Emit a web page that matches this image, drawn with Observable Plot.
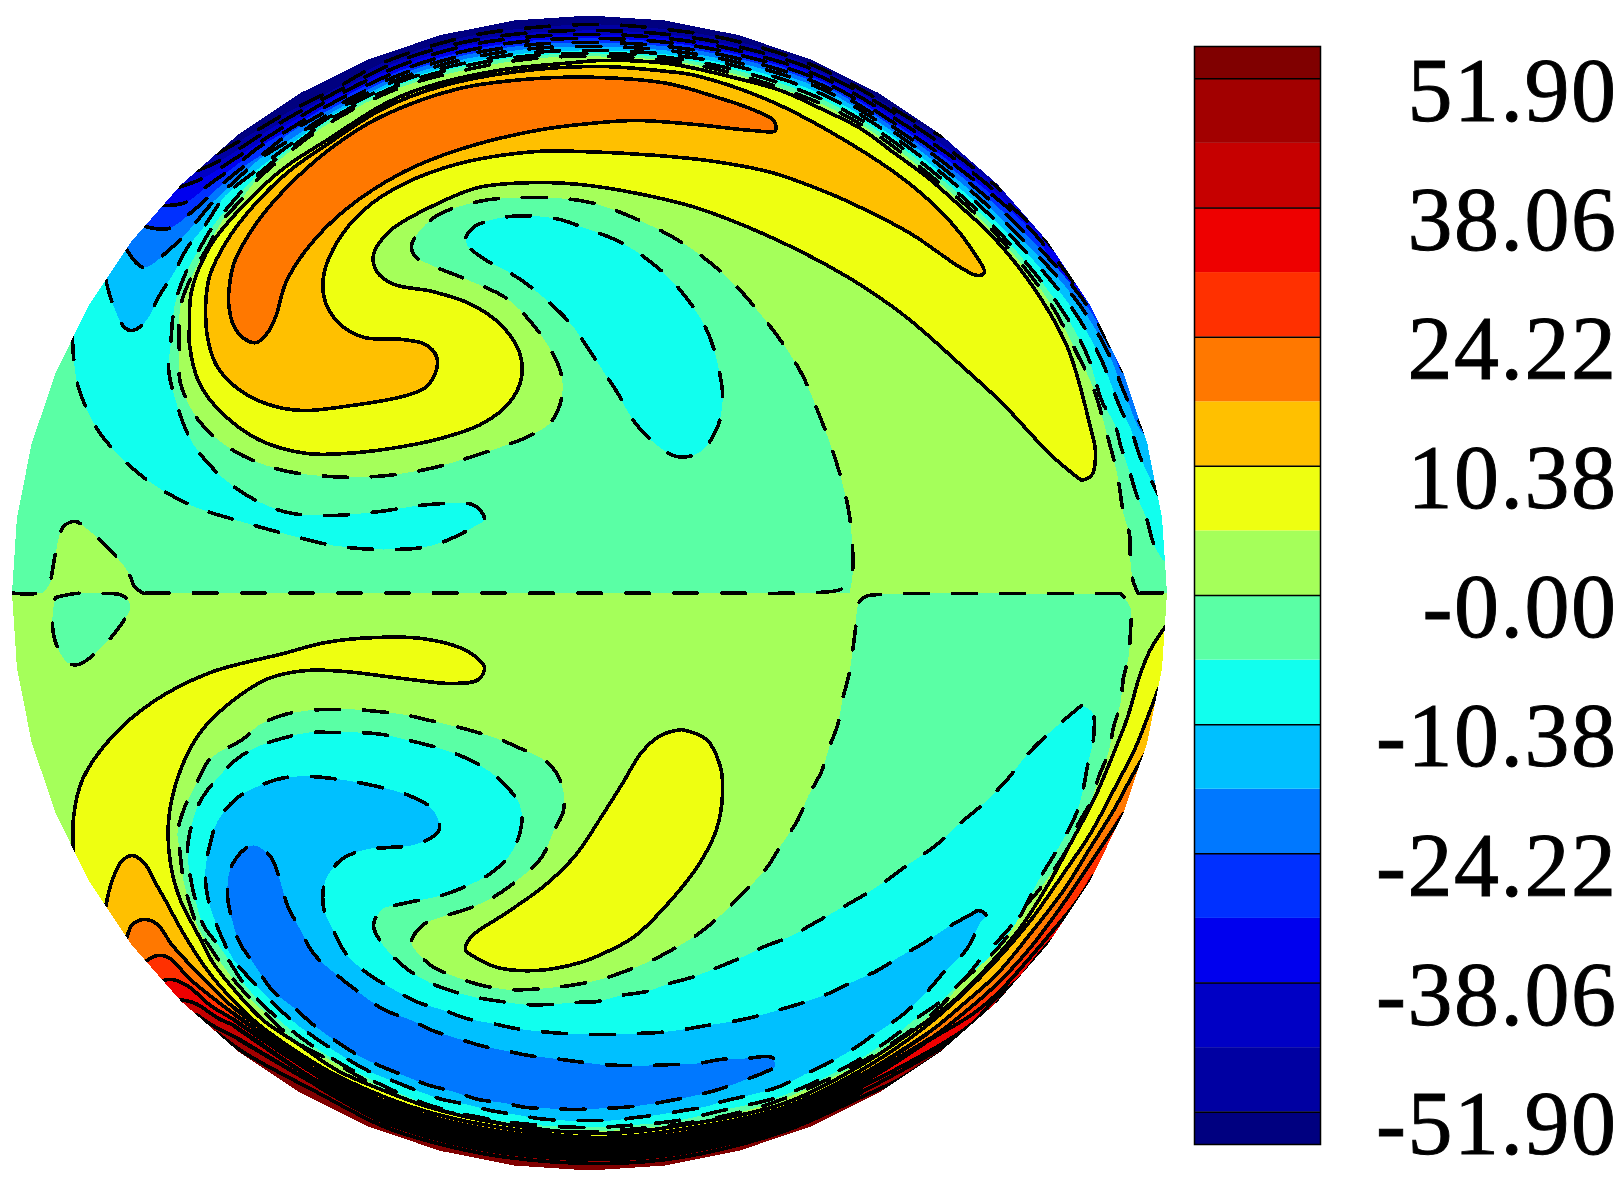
<!DOCTYPE html>
<html><head><meta charset="utf-8">
<style>html,body{margin:0;padding:0;background:#fff}#chart{position:relative;width:1620px;height:1185px}#chart svg{position:absolute;top:0}#bar text{stroke:#000;stroke-width:.9px;letter-spacing:1.5px}</style>
<script src="https://cdn.jsdelivr.net/npm/d3@7"></script>
<script src="https://cdn.jsdelivr.net/npm/@observablehq/plot@0.6"></script>
</head><body><div id="chart"></div>
<script>
// Colour bands, lowest to highest, and the evenly spaced colour-bar positions that carry them
const bandColors = ["#000080","#0000a2","#0000c5","#0000ee","#0030ff","#0078ff","#00c0ff","#11ffee","#5affa5","#a5ff5a","#eeff11","#ffc000","#ff7800","#ff3000","#ee0000","#c60000","#a20000","#800000"];
const bandEdges = [-8.5,-8,-7,-6,-5,-4,-3,-2,-1,0,1,2,3,4,5,6,7,8,8.5];
const tickValues = [-8,-6,-4,-2,0,2,4,6,8];
const tickLabels = ["-51.90","-38.06","-24.22","-10.38","-0.00","10.38","24.22","38.06","51.90"];
const rimAngles = d3.range(0,360.1,7.5);

// Digitised contours of the upper hemisphere, outermost first
const up8=[217,153,240,140,253,132,287,112,333,89,383,62,467,36,533,27,600,24,667,29,733,40,820,68,930,130,942,136];
const up7=[197,170,220,160,253,139,287,118,333,93,400,60,467,41,533,32,600,30,667,34,733,45,820,72,921,130,989,180,1000,190];
const up6=[178,187,202,178,227,163,253,146,287,124,333,97,400,65,467,45,533,36,600,34,667,38,733,49,820,76,913,130,982,180,1036,230,1056,251];
const up5=[162,205,185,202,210,183,233,167,258,147,282,133,333,102,400,70,467,50,533,40,600,38,667,42,733,53,820,80,905,130,974,180,1031,230,1085,298];
const up4=[145,226,168,228,193,210,217,188,242,167,263,153,290,132,333,107,400,74,467,54,533,44,600,42,667,46,733,57,820,84,898,130,966,180,1022,230,1083,300,1112,350,1123,371];
const up3=[126,249,143,267,168,250,190,228,213,201,235,180,260,158,287,141,333,111,400,78,467,58,533,48,600,46,667,50,733,61,820,88,891,130,958,180,1013,230,1076,300,1108,353,1125,395,1146,434];
const up2=[105,278,111,300,124,327,132,330,145,321,159,295,173,273,187,247,203,227,225,195,253,172,287,146,333,114,400,81,467,62,533,52,600,50,667,54,733,65,820,93,884,130,950,180,1005,230,1066,300,1098,353,1120,408,1131,430,1139,455,1150,478,1158,494];
const up1=[72,335,73,356,78,387,99,432,142,476,191,505,237,520,287,534,333,545,383,549,432,545,474,526,484,519,474,505,429,504,379,511,329,515,283,511,233,486,193,444,174,396,168,367,170,346,174,306,185,273,198,250,213,225,235,198,253,178,287,150,333,117,400,84,467,65,533,55,600,53,667,57,733,69,820,98,877,130,943,180,997,230,1055,300,1086,353,1102,402,1114,423,1121,448,1129,471,1137,497,1146,518,1154,545,1166,561];
const upZero=[849,593,852,575,852,547,848,509,835,459,819,415,800,371,769,325,729,279,683,243,630,216,585,201,528,197,478,201,432,218,411,245,415,256,434,266,471,281,509,300,547,344,561,375,561,398,551,421,532,434,475,455,425,469,375,476,329,476,279,469,233,450,199,421,180,383,179,356,180,306,195,268,207,247,222,220,240,200,253,183,287,153,333,120,400,87,467,69,533,58,600,56,667,60,733,73,820,103,870,130,936,180,992,230,1048,300,1077,354,1093,388,1106,432,1117,475,1123,513,1129,534,1130,561,1133,582,1138,593];
const upYellow=[1081,480,1051,455,1001,402,963,367,905,316,848,277,771,237,695,207,637,193,580,184,536,182,478,187,429,207,390,230,373,254,377,272,394,284,432,291,471,304,501,325,519,352,521,377,509,402,482,423,440,438,390,448,344,453,306,453,260,440,222,413,199,383,189,344,189,325,191,291,210,245,241,207,283,168,329,138,383,104,421,88,497,70,574,62,600,60,667,63,733,77,780,90,820,108,860,128,893,152,927,177,960,206,993,237,1033,287,1067,347,1090,427,1095,452,1091,475,1081,480];
const upAmber=[205,307,209,276,226,241,249,210,287,172,325,145,383,108,440,86,517,71,600,66,667,71,695,75,771,101,848,142,905,180,947,218,974,253,984,272,977,275,960,267,910,233,860,207,829,193,771,172,714,161,657,155,580,151,536,151,459,163,402,184,364,209,337,241,323,276,325,302,341,325,364,337,402,339,425,344,436,356,436,369,425,387,402,396,344,406,302,410,268,404,237,388,216,365,207,337,205,307];
const upOrange=[228,295,233,264,249,233,268,207,306,168,344,138,383,115,459,88,536,78,600,77,667,83,717,97,752,109,773,120,775,130,752,130,695,124,637,120,600,122,536,130,459,149,402,172,344,210,306,249,285,283,276,314,268,331,256,342,245,339,233,325,228,302,228,295];
const upTongue=[465,237,474,226,509,216,555,218,580,226,626,245,672,281,706,329,720,377,722,402,716,429,699,452,676,456,651,440,632,419,618,394,603,371,585,344,570,323,536,291,509,272,486,260,467,245,465,237];
const miniUp=[42,593,50,582,57,543,63,526,75,521,86,528,109,549,128,572,134,586,143,593];

// Digitised contours of the lower hemisphere
const lowD1=[73,852,73,817,82,779,111,737,153,701,210,672,283,653,325,642,375,637,421,638,459,647,476,657,484,667,478,679,452,683,402,678,344,671,306,670,268,678,230,702,199,733,178,775,168,821,170,863,180,900,197,933,213,963,237,993,263,1020,297,1043,337,1070,383,1090,433,1108,500,1123,600,1133,680,1125,783,1103,860,1065,913,1030,957,997,990,963,1020,927,1050,880,1070,843,1093,800,1113,753,1127,717,1140,673,1150,649,1165,626];
const lowD2=[105,907,111,882,121,861,132,855,144,863,157,886,165,900,183,933,207,970,230,997,257,1023,290,1047,327,1070,383,1096,433,1113,500,1127,600,1137,680,1129,783,1107,860,1070,920,1030,963,993,993,963,1030,920,1063,873,1090,833,1113,790,1135,747,1147,717,1158,688];
const lowD3=[126,938,132,924,144,919,157,924,172,945,203,978,233,1007,317,1066,383,1101,433,1118,500,1132,600,1141,680,1134,783,1111,860,1075,927,1033,967,1000,997,973,1030,933,1063,890,1090,847,1113,810,1133,773,1146,751];
const lowD4=[145,961,157,955,168,957,191,980,233,1013,317,1071,383,1106,433,1122,500,1136,600,1145,680,1138,783,1115,860,1079,930,1038,970,1007,1000,980,1030,947,1060,907,1087,867,1107,837,1123,813];
const lowD5=[163,980,172,979,188,986,210,1005,233,1019,317,1075,383,1111,433,1127,500,1141,600,1149,680,1143,783,1119,860,1083,925,1042,973,1013,997,993,1027,960,1050,933,1077,900,1093,875];
const lowD6=[179,999,195,1003,218,1018,233,1025,317,1081,383,1116,433,1132,500,1146,600,1153,680,1147,783,1123,860,1087,947,1040,973,1022,993,1000,1020,977,1040,952,1055,936];
const lowD7=[196,1014,214,1026,237,1038,317,1085,383,1121,433,1137,500,1151,600,1158,680,1152,783,1127,860,1092,963,1033,990,1010,1003,995];
const lowD8=[216,1032,245,1053,317,1092,383,1126,433,1142,500,1156,600,1163,680,1157,783,1131,860,1097,900,1078,942,1051];
const lowZero=[1120,593,1000,593,905,593,878,594,865,596,858,603,855,628,852,652,848,676,842,699,837,725,829,746,821,771,808,795,797,820,781,844,765,869,744,891,720,915,697,934,672,949,649,961,624,971,600,979,576,984,553,987,528,989,505,989,478,984,457,977,432,966,413,947,411,940,423,924,446,915,471,907,494,896,519,878,541,857,553,831,563,810,561,783,547,762,520,748,499,739,474,731,451,725,425,719,403,714,377,711,355,709,329,709,307,710,281,715,258,725,242,739,210,758,195,785,184,807,177,833,179,848,183,880,189,903,198,928,213,952,238,985,260,1008,297,1042,330,1060,383,1089,423,1105,487,1120,530,1128,587,1131,627,1129,683,1123,730,1114,770,1103,810,1087,860,1062,900,1037,932,1013,953,992,985,953,1007,930,1023,908,1038,890,1053,870,1067,848,1078,823,1091,800,1098,777,1108,752,1113,727,1120,703,1123,677,1128,657,1130,630,1130,607,1120,593];
const low1=[1081,705,1048,733,1026,755,1005,781,982,804,957,825,934,846,909,863,886,880,861,896,838,909,813,923,790,936,764,946,741,957,717,967,694,976,669,983,646,991,620,995,597,1001,573,1002,549,1004,524,1004,501,1001,476,997,453,991,429,982,406,968,383,945,373,924,383,908,394,905,417,900,441,895,465,886,490,873,511,852,521,825,519,804,499,779,478,764,452,752,429,745,405,739,382,734,357,732,333,732,308,732,285,737,260,745,237,758,214,781,199,802,190,829,187,850,190,877,195,900,203,925,222,950,245,985,285,1025,330,1057,378,1083,430,1105,480,1117,530,1124,587,1127,627,1125,677,1120,730,1108,770,1099,800,1088,850,1064,892,1037,913,1020,940,1001,962,980,982,963,1002,942,1020,915,1038,880,1052,857,1065,835,1077,810,1083,787,1088,760,1093,738,1092,712,1081,705];
const low2=[972,913,947,927,924,942,898,957,877,970,851,982,828,993,803,1002,780,1009,755,1016,732,1021,706,1025,683,1029,658,1032,635,1033,611,1034,588,1034,563,1033,540,1031,515,1028,492,1023,466,1018,444,1010,418,1002,395,990,370,975,346,954,332,928,323,907,325,880,341,859,365,849,388,847,415,844,438,831,438,820,429,806,406,794,381,787,358,782,332,778,309,776,285,777,262,784,236,798,217,821,209,846,205,869,207,896,220,934,233,959,253,982,277,1007,299,1026,323,1043,346,1058,371,1072,394,1081,419,1091,442,1099,467,1104,490,1110,515,1114,538,1118,565,1120,587,1120,611,1120,635,1117,660,1114,683,1110,706,1106,722,1101,756,1093,779,1086,804,1074,825,1064,852,1049,875,1033,900,1016,923,995,945,970,966,949,980,922,986,915,978,910,972,913];
const low3=[773,1058,768,1056,745,1058,720,1059,697,1063,672,1064,648,1065,624,1065,600,1064,576,1061,553,1058,528,1055,504,1050,480,1045,457,1038,432,1030,409,1019,383,1009,360,993,337,975,313,953,298,926,287,905,279,878,270,856,254,845,245,848,230,868,227,894,231,917,239,942,254,964,272,990,297,1010,310,1022,333,1039,358,1055,381,1066,406,1076,429,1085,453,1091,478,1099,501,1102,526,1107,550,1108,574,1109,598,1108,621,1107,647,1104,670,1100,695,1095,718,1089,743,1080,766,1071,774,1066,773,1058];
const lowBlob=[681,729,706,739,720,767,722,794,716,829,699,863,672,898,634,936,607,951,580,962,536,970,497,967,475,957,465,949,471,936,505,913,543,886,574,856,603,813,622,783,641,752,660,735,681,729];
const miniLow=[55,597,75,593,100,593,122,595,130,606,122,622,103,645,78,664,67,662,57,647,52,626,53,607,55,597];

// Stretches of the zero contour that only carry a line
const midLeft=[145,592.5,400,592.5,700,592.5,817,592,840,589,848,582,852,570];
const rimDashLeft=[11,592.5,40,592,50,582];
const rimDashRight=[1138,593,1142,592.5,1166,592.5];

// Points that close rim layers outside the disc
const closeUp=[1250,150,1250,593,-100,593,-100,150];
const closeLow=[1250,1250,-50,1250];
const upperHalf=[0,0,1180,0,1180,592.5,0,592.5];
const lowerHalf=[0,592.5,1180,592.5,1180,1185,0,1185];

const pts = flat => d3.range(0,flat.length,2).map(i=>({x:flat[i],y:flat[i+1]}));
const axes = {x:"x",y:"y"};
const crisp = "crispEdges";
const fill = (flat,color,curve="catmull-rom") => Plot.line(pts(flat),{...axes,fill:color,stroke:"none",curve,shapeRendering:crisp});
const solid = flat => Plot.line(pts(flat),{...axes,stroke:"#000",strokeWidth:3.6,curve:"catmull-rom",shapeRendering:crisp,strokeLinejoin:"round"});
const dashed = flat => Plot.line(pts(flat),{...axes,stroke:"#000",strokeWidth:3.6,strokeDasharray:"24,24",curve:"catmull-rom",shapeRendering:crisp});
// The packed stretch of a rim contour along the bottom, where neighbouring lines merge
const packed = (flat,width,x0,x1) => Plot.line(pts(flat).filter(p=>p.x>=x0&&p.x<=x1&&p.y>1000),{...axes,stroke:"#000",strokeWidth:width,curve:"catmull-rom",shapeRendering:crisp});
const packedLines = [lowD3,lowD4,lowD5,lowD6,lowD7];

// White surround whose hole is the disc outline
const cx=589, cy=592.5, R=577.5;
const surround = rimAngles.map(a=>({x:cx-R*Math.cos(a*Math.PI/180),y:cy-R*Math.sin(a*Math.PI/180)}))
  .concat([{x:-60,y:cy},{x:-60,y:1245},{x:1240,y:1245},{x:1240,y:-60},{x:-60,y:-60},{x:-60,y:cy}]);

const disc = Plot.plot({
  width:1180,height:1185,margin:0,
  x:{domain:[0,1180],range:[0,1180],axis:null},
  y:{domain:[0,1185],range:[0,1185],axis:null},
  marks:[
    fill(upperHalf,bandColors[0],"linear"),
    fill(up8.concat(closeUp),bandColors[1]),
    fill(up7.concat(closeUp),bandColors[2]),
    fill(up6.concat(closeUp),bandColors[3]),
    fill(up5.concat(closeUp),bandColors[4]),
    fill(up4.concat(closeUp),bandColors[5]),
    fill(up3.concat(closeUp),bandColors[6]),
    fill(up2.concat(closeUp),bandColors[7]),
    fill(up1.concat(closeUp),bandColors[8]),
    fill(upZero,bandColors[9]),
    fill(upYellow,bandColors[10]),
    fill(upAmber,bandColors[11]),
    fill(upOrange,bandColors[12]),
    fill(upTongue,bandColors[7]),
    fill(miniUp,bandColors[9]),
    fill(lowerHalf,bandColors[9],"linear"),
    fill(lowD1.concat(closeLow),bandColors[10]),
    fill(lowD2.concat(closeLow),bandColors[11]),
    fill(lowD3.concat(closeLow),bandColors[12]),
    fill(lowD4.concat(closeLow),bandColors[13]),
    fill(lowD5.concat(closeLow),bandColors[14]),
    fill(lowD6.concat(closeLow),bandColors[15]),
    fill(lowD7.concat(closeLow),bandColors[16]),
    fill(lowD8.concat(closeLow),bandColors[17]),
    fill(lowZero,bandColors[8]),
    fill(low1,bandColors[7]),
    fill(low2,bandColors[6]),
    fill(low3,bandColors[5]),
    fill(lowBlob,bandColors[10]),
    fill(miniLow,bandColors[8]),
    ...[up8,up7,up6,up5,up4,up3,up2,up1,upTongue,lowZero,low1,low2,low3,miniLow,rimDashRight].map(dashed),
    dashed(midLeft.concat(upZero.slice(4))),
    dashed(rimDashLeft.concat(miniUp.slice(2))),
    ...[upYellow,upAmber,upOrange,lowD1,lowD2,lowD3,lowD4,lowD5,lowD6,lowD7,lowD8,lowBlob].map(solid),
    ...packedLines.map(c=>packed(c,4.2,233,930)),
    ...packedLines.map(c=>packed(c,5,317,860)),
    ...packedLines.map(c=>packed(c,5.8,383,783)),
    Plot.line(surround,{...axes,fill:"#fff",stroke:"none",curve:"linear",shapeRendering:crisp})
  ]
});
disc.style.left="0";

const bands = bandColors.map((color,i)=>({y1:bandEdges[i],y2:bandEdges[i+1],color}));
const bar = Plot.plot({
  width:440,height:1185,marginLeft:14,marginRight:300,marginTop:46,marginBottom:41,
  x:{domain:[0,1],axis:null},
  y:{domain:[bandEdges[0],bandEdges[bandEdges.length-1]],axis:null},
  marks:[
    Plot.rectY(bands,{x1:0,x2:1,y1:"y1",y2:"y2",fill:"color"}),
    Plot.ruleY(tickValues,{x1:0,x2:1,stroke:"#000",strokeWidth:1.5}),
    Plot.frame({stroke:"#000",strokeWidth:1.5}),
    Plot.axisY(tickValues,{anchor:"right",tickSize:0,tickPadding:297,textAnchor:"end",dy:13,
      tickFormat:d=>tickLabels[tickValues.indexOf(d)],
      fontSize:90,fontFamily:"Liberation Serif",fill:"#000",label:null})
  ]
});
bar.id="bar";
bar.style.left="1180px";
bar.style.fontFamily="Liberation Serif";
document.getElementById("chart").append(disc,bar);
</script></body></html>
